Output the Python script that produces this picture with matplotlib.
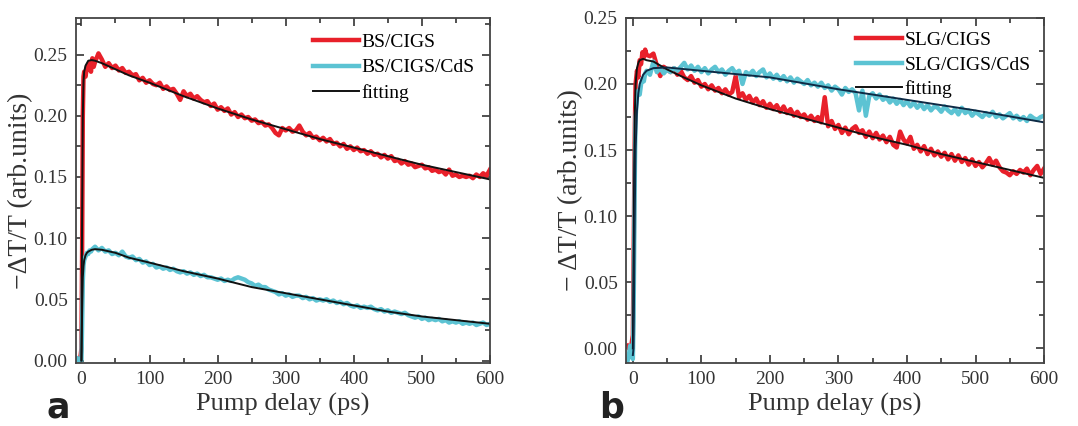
import matplotlib
matplotlib.use('Agg')
from matplotlib import pyplot as plt
from matplotlib.ticker import MultipleLocator, FormatStrFormatter

# time axis (ps): a dense start, then every 5 ps
t_early = [-8, -6, -4, -2, 0, 1, 2, 3, 4, 6, 8, 10, 12, 14, 16, 18]
t_main = list(range(20, 605, 5))
t_data = t_early + t_main

t_fit = [0, 1, 2, 3, 4, 6, 8, 10, 15, 20, 30, 50, 70, 100, 150, 200, 250, 300, 350, 400, 450, 500, 550, 600]

# panel a: BS/CIGS
a_red = [0.001, 0.0, 0.002, 0.0, 0.01, 0.09, 0.20, 0.232, 0.236, 0.232, 0.240, 0.238, 0.243, 0.236, 0.247, 0.240,
         0.244, 0.251, 0.246, 0.240, 0.243, 0.239, 0.241, 0.237, 0.239, 0.235,
         0.236, 0.233, 0.234, 0.229, 0.231, 0.227, 0.229, 0.226, 0.225, 0.227,
         0.222, 0.224, 0.221, 0.222, 0.218, 0.213, 0.220, 0.216, 0.218, 0.214,
         0.216, 0.213, 0.211, 0.212, 0.208, 0.210, 0.205, 0.207, 0.204, 0.206,
         0.201, 0.203, 0.199, 0.201, 0.198, 0.199, 0.196, 0.197, 0.194, 0.195,
         0.192, 0.193, 0.190, 0.186, 0.184, 0.190, 0.188, 0.190, 0.187, 0.188,
         0.192, 0.187, 0.184, 0.186, 0.182, 0.183, 0.180, 0.182, 0.179, 0.181,
         0.177, 0.178, 0.175, 0.177, 0.173, 0.175, 0.172, 0.174, 0.171, 0.172,
         0.169, 0.171, 0.168, 0.169, 0.166, 0.168, 0.165, 0.167, 0.163, 0.164,
         0.161, 0.163, 0.160, 0.161, 0.158, 0.159, 0.160, 0.157, 0.158, 0.155,
         0.156, 0.154, 0.155, 0.152, 0.156, 0.151, 0.152, 0.150, 0.151, 0.150,
         0.151, 0.149, 0.152, 0.150, 0.153, 0.151, 0.156]
a_cyan = [0.0, 0.002, 0.0, 0.001, 0.0, 0.03, 0.065, 0.078, 0.082, 0.085, 0.088, 0.087, 0.090, 0.089, 0.091, 0.092,
          0.093, 0.090, 0.092, 0.089, 0.090, 0.087, 0.088, 0.086, 0.089, 0.085,
          0.084, 0.085, 0.082, 0.083, 0.080, 0.081, 0.078, 0.079, 0.076, 0.077,
          0.075, 0.076, 0.074, 0.075, 0.073, 0.072, 0.073, 0.071, 0.072, 0.070,
          0.071, 0.069, 0.070, 0.068, 0.068, 0.067, 0.066, 0.067, 0.065, 0.066,
          0.065, 0.067, 0.068, 0.067, 0.066, 0.064, 0.063, 0.061, 0.062, 0.060,
          0.060, 0.058, 0.057, 0.056, 0.054, 0.055, 0.053, 0.054, 0.052, 0.053,
          0.053, 0.051, 0.052, 0.050, 0.051, 0.049, 0.050, 0.049, 0.050, 0.048,
          0.049, 0.047, 0.048, 0.046, 0.047, 0.045, 0.044, 0.045, 0.043, 0.044,
          0.043, 0.044, 0.042, 0.041, 0.042, 0.040, 0.041, 0.039, 0.040, 0.039,
          0.038, 0.039, 0.037, 0.036, 0.035, 0.036, 0.034, 0.035, 0.033, 0.034,
          0.033, 0.034, 0.032, 0.033, 0.031, 0.032, 0.031, 0.032, 0.030, 0.031,
          0.030, 0.031, 0.029, 0.030, 0.031, 0.029, 0.030]
a_red_fit = [0.0, 0.12, 0.20, 0.228, 0.236, 0.241, 0.243, 0.245, 0.2455, 0.245, 0.243, 0.238, 0.233, 0.227,
             0.216, 0.206, 0.197, 0.189, 0.181, 0.174, 0.167, 0.160, 0.154, 0.148]
a_cyan_fit = [0.0, 0.04, 0.068, 0.077, 0.082, 0.086, 0.088, 0.089, 0.0905, 0.091, 0.0905, 0.088, 0.084, 0.080,
              0.073, 0.067, 0.060, 0.055, 0.050, 0.045, 0.040, 0.036, 0.033, 0.030]

# panel b: SLG/CIGS
b_red = [0.002, 0.0, 0.001, 0.003, 0.01, 0.06, 0.12, 0.17, 0.20, 0.21, 0.205, 0.218, 0.215, 0.224, 0.220, 0.226,
         0.222, 0.221, 0.223, 0.214, 0.206, 0.213, 0.211, 0.209, 0.212, 0.207,
         0.210, 0.205, 0.203, 0.206, 0.201, 0.203, 0.198, 0.200, 0.196, 0.199,
         0.195, 0.197, 0.193, 0.196, 0.192, 0.194, 0.206, 0.190, 0.193, 0.188,
         0.191, 0.186, 0.189, 0.184, 0.187, 0.182, 0.185, 0.181, 0.184, 0.179,
         0.183, 0.178, 0.181, 0.176, 0.179, 0.175, 0.177, 0.173, 0.176, 0.172,
         0.175, 0.171, 0.190, 0.168, 0.172, 0.166, 0.169, 0.163, 0.167, 0.162,
         0.166, 0.168, 0.163, 0.165, 0.160, 0.164, 0.159, 0.163, 0.158, 0.161,
         0.156, 0.160, 0.154, 0.152, 0.164, 0.158, 0.155, 0.160, 0.151, 0.154,
         0.149, 0.153, 0.147, 0.151, 0.146, 0.149, 0.145, 0.148, 0.143, 0.147,
         0.142, 0.146, 0.141, 0.144, 0.139, 0.143, 0.138, 0.141, 0.137, 0.140,
         0.144, 0.139, 0.142, 0.137, 0.134, 0.133, 0.131, 0.134, 0.132, 0.135,
         0.133, 0.136, 0.131, 0.135, 0.138, 0.132, 0.136]
b_cyan = [-0.010, -0.006, 0.002, -0.004, -0.008, 0.02, 0.08, 0.14, 0.175, 0.19, 0.195, 0.192, 0.200, 0.204, 0.202, 0.208,
          0.210, 0.207, 0.217, 0.209, 0.212, 0.208, 0.211, 0.209, 0.212, 0.210,
          0.213, 0.216, 0.211, 0.214, 0.210, 0.213, 0.209, 0.212, 0.208, 0.211,
          0.213, 0.209, 0.211, 0.207, 0.210, 0.212, 0.208, 0.210, 0.200, 0.209,
          0.207, 0.210, 0.206, 0.209, 0.211, 0.205, 0.208, 0.204, 0.207, 0.203,
          0.206, 0.202, 0.205, 0.201, 0.204, 0.202, 0.200, 0.203, 0.199, 0.201,
          0.198, 0.201, 0.197, 0.199, 0.195, 0.198, 0.196, 0.192, 0.197, 0.194,
          0.196, 0.193, 0.180, 0.195, 0.176, 0.191, 0.193, 0.189, 0.192, 0.188,
          0.190, 0.186, 0.189, 0.185, 0.188, 0.184, 0.187, 0.183, 0.186, 0.182,
          0.185, 0.181, 0.184, 0.180, 0.183, 0.182, 0.179, 0.183, 0.180, 0.178,
          0.181, 0.177, 0.182, 0.178, 0.180, 0.176, 0.179, 0.177, 0.175, 0.178,
          0.176, 0.179, 0.175, 0.177, 0.174, 0.176, 0.178, 0.174, 0.176, 0.173,
          0.175, 0.172, 0.176, 0.174, 0.173, 0.175, 0.176]
b_red_fit = [0.0, 0.07, 0.14, 0.18, 0.20, 0.212, 0.216, 0.218, 0.219, 0.218, 0.217, 0.211, 0.206, 0.199,
             0.189, 0.181, 0.174, 0.167, 0.160, 0.154, 0.147, 0.141, 0.135, 0.129]
b_cyan_fit = [-0.005, 0.0, 0.05, 0.11, 0.15, 0.18, 0.193, 0.200, 0.207, 0.210, 0.212, 0.2125, 0.2115, 0.210,
              0.2075, 0.205, 0.2005, 0.196, 0.192, 0.188, 0.184, 0.180, 0.1755, 0.171]

RED = '#e8202a'
CYAN = '#5cc3d3'

plt.rcParams['font.family'] = ['Liberation Serif', 'DejaVu Serif']

fig = plt.figure(figsize=(10.78, 4.26), dpi=100)
ax_a = fig.add_axes([0.0705, 0.148, 0.384, 0.81])
ax_b = fig.add_axes([0.5807, 0.148, 0.3878, 0.81])


def style_axes(ax, xlim, ylim, ylabel):
    ax.set_xlim(*xlim)
    ax.set_ylim(*ylim)
    ax.xaxis.set_major_locator(MultipleLocator(100))
    ax.xaxis.set_minor_locator(MultipleLocator(50))
    ax.yaxis.set_major_locator(MultipleLocator(0.05))
    ax.yaxis.set_minor_locator(MultipleLocator(0.025))
    ax.yaxis.set_major_formatter(FormatStrFormatter('%.2f'))
    ax.tick_params(which='both', direction='in', top=True, right=True, colors='#333333',
                   labelcolor='#333333', width=1.2)
    ax.tick_params(which='major', length=6, labelsize=14, pad=6)
    ax.tick_params(which='minor', length=3.5)
    for s in ax.spines.values():
        s.set_color('#444444')
        s.set_linewidth(1.3)
    ax.set_xlabel('Pump delay (ps)', fontsize=19, color='#333333', labelpad=3)
    ax.set_ylabel(ylabel, fontsize=20, color='#333333', labelpad=0)


# panel a
ax_a.plot(t_data, a_red, color=RED, lw=3.2, label='BS/CIGS')
ax_a.plot(t_data, a_cyan, color=CYAN, lw=3.2, label='BS/CIGS/CdS')
ax_a.plot(t_fit, a_red_fit, color='#111111', lw=1.4, label='fitting')
ax_a.plot(t_fit, a_cyan_fit, color='#111111', lw=1.4)
style_axes(ax_a, (-8, 600), (-0.002, 0.28), '\u2212\u0394T/T (arb.units)')
ax_a.legend(loc='upper right', frameon=False, fontsize=14, handlelength=2.4,
            handletextpad=0.1, labelspacing=0.4, borderaxespad=0.4)

# panel b
ax_b.plot(t_data, b_red, color=RED, lw=3.2, label='SLG/CIGS')
ax_b.plot(t_data, b_cyan, color=CYAN, lw=3.2, label='SLG/CIGS/CdS')
ax_b.plot(t_fit, b_red_fit, color='#111111', lw=1.4, label='fitting')
ax_b.plot(t_fit, b_cyan_fit, color='#0e2a45', lw=1.4)
style_axes(ax_b, (-10, 600), (-0.011, 0.25), '\u2212 \u0394T/T (arb.units)')
ax_b.legend(loc='upper right', frameon=False, fontsize=14, handlelength=2.4,
            handletextpad=0.1, labelspacing=0.35, borderaxespad=0.3)

fig.text(0.043, 0.02, 'a', fontsize=25, fontweight='bold', family='DejaVu Sans', color='#222222')
fig.text(0.556, 0.02, 'b', fontsize=25, fontweight='bold', family='DejaVu Sans', color='#222222')

fig.savefig('out.png', dpi=100)
